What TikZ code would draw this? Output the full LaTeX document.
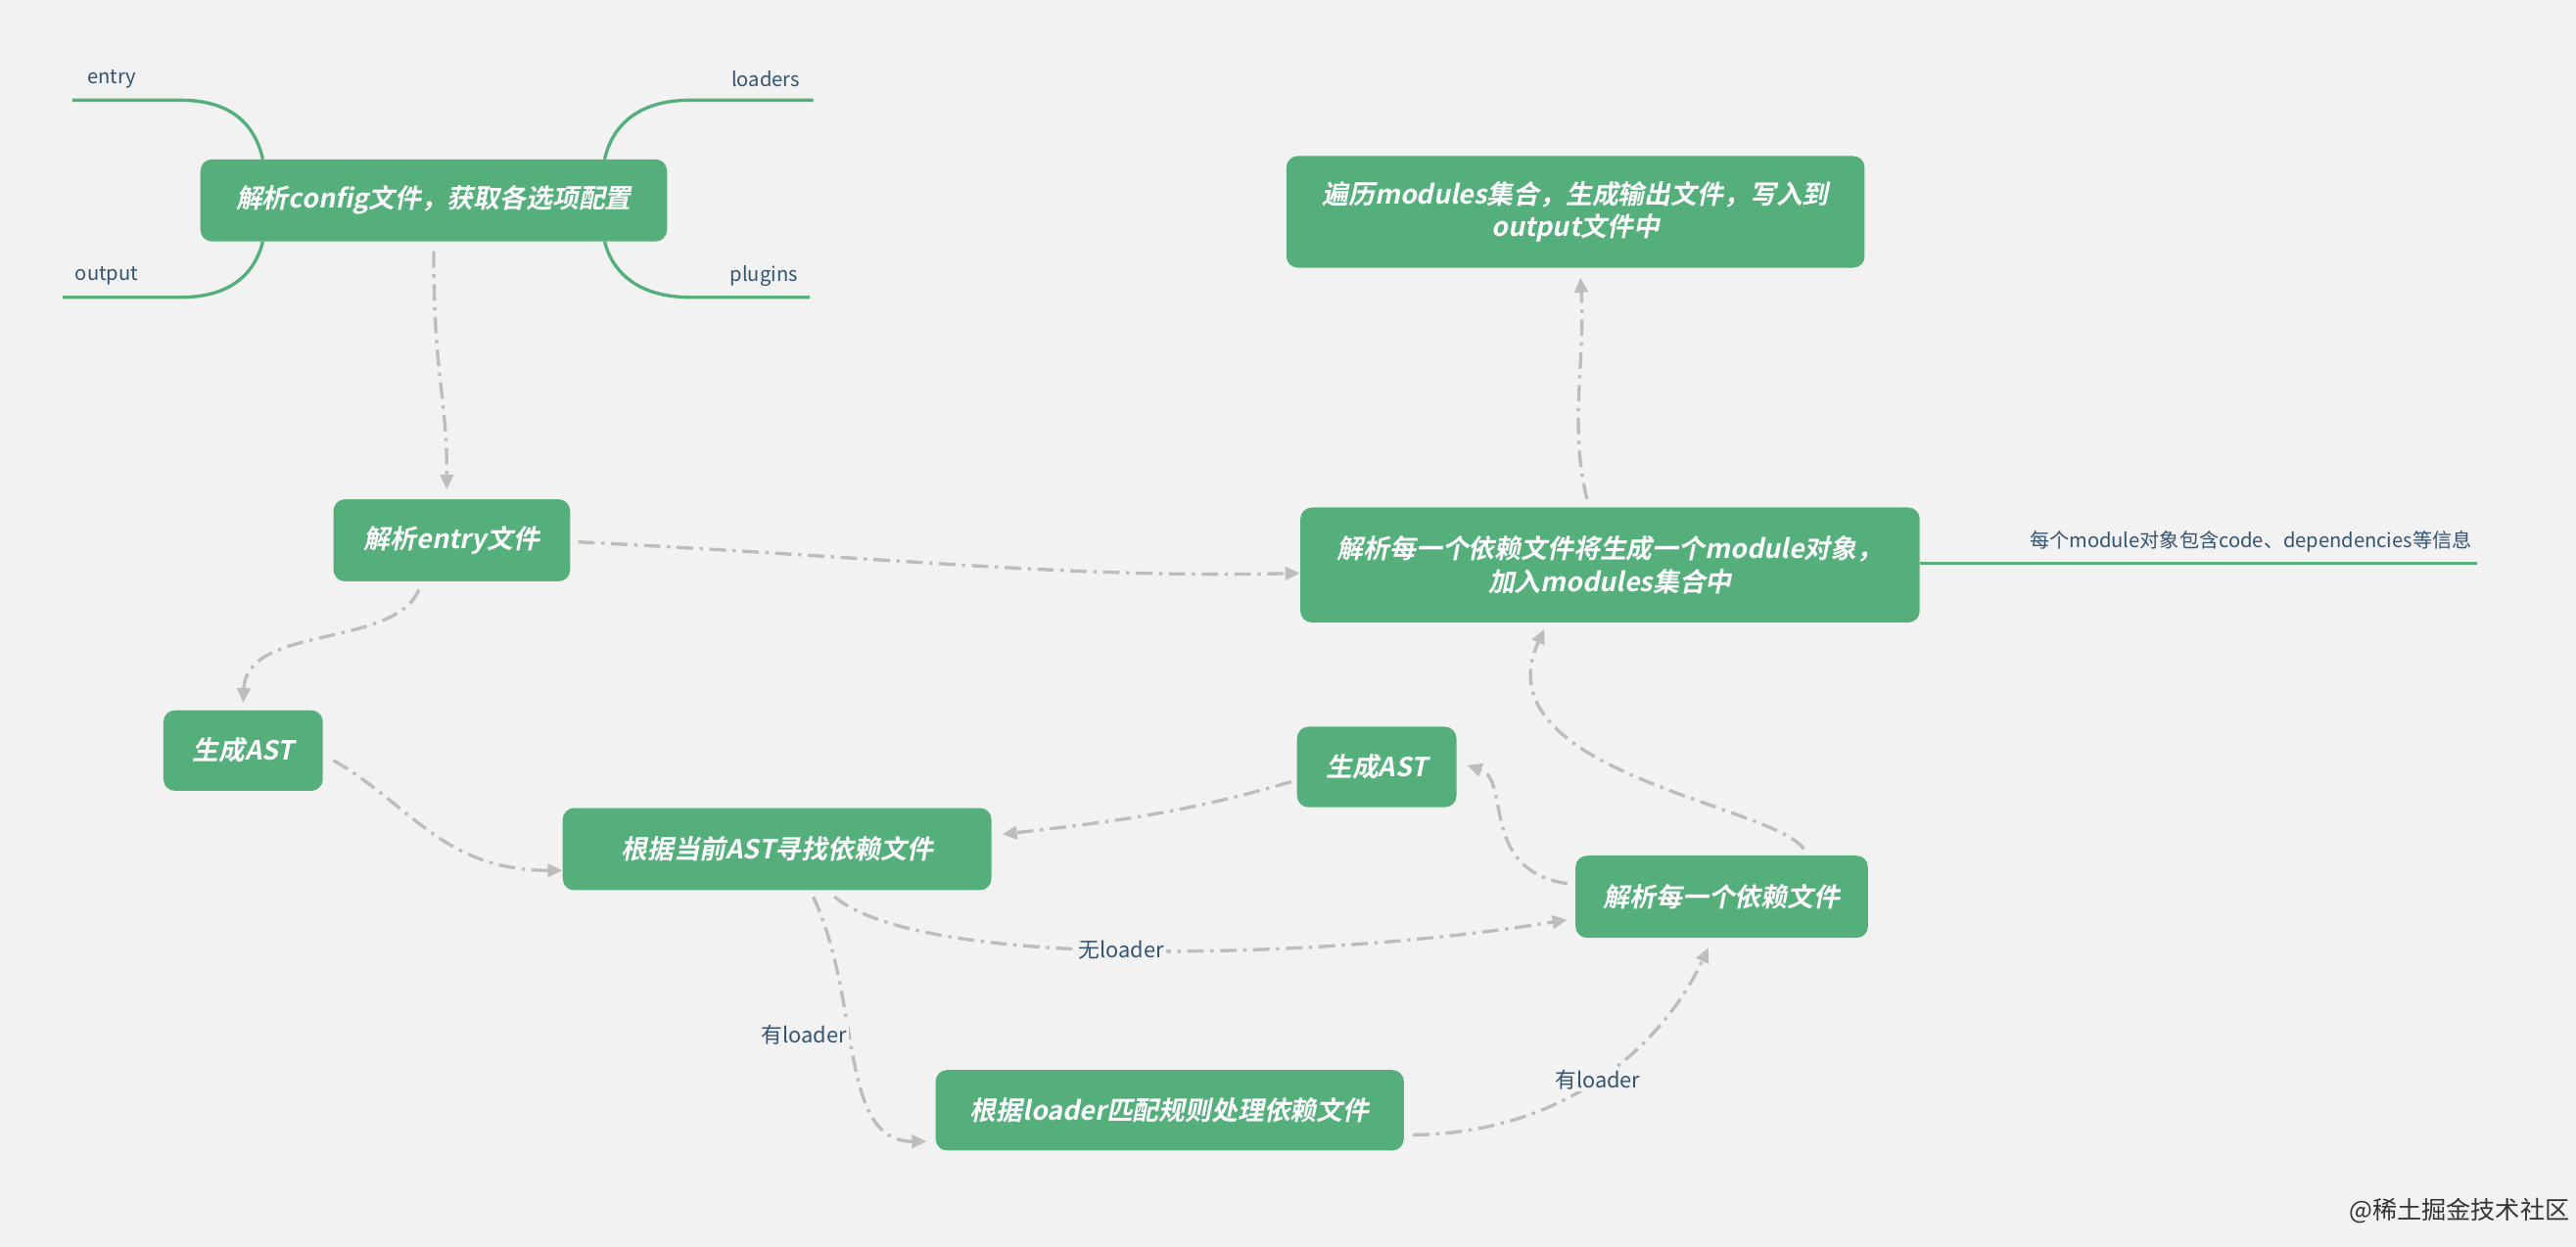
\documentclass[tikz,border=0pt]{standalone}
\usepackage{fontspec}
\setmainfont{Liberation Sans}
\newfontfamily\cjk{Noto Sans CJK SC}
\newfontfamily\cjkb[FakeSlant=0.2]{Noto Sans CJK SC Bold}
\usetikzlibrary{arrows.meta}
\definecolor{gbox}{HTML}{55AF7B}
\definecolor{bg}{HTML}{F2F2F2}
\definecolor{arr}{HTML}{BDBDBD}
\definecolor{lbl}{HTML}{34536E}
\tikzset{
 box/.style={fill=gbox,rounded corners=7pt,text=white,font=\cjkb\fontsize{16}{20}\selectfont,align=center,inner sep=0pt},
 con/.style={draw=arr,line width=2pt,dash pattern=on 10pt off 4pt on 2pt off 4pt,-{Triangle[length=9pt,width=8pt]}},
 br/.style={draw=gbox,line width=2pt},
 tag/.style={font=\cjk\fontsize{12}{14}\selectfont,text=lbl},
 el/.style={font=\cjk\itshape\fontsize{13}{15}\selectfont,text=lbl,fill=bg,inner sep=1pt}
}
\begin{document}
\begin{tikzpicture}[x=1pt,y=-1pt]
\fill[bg] (0,0) rectangle (1568,759);
\useasboundingbox (0,0) rectangle (1568,759);
\node[box,minimum width=284pt,minimum height=50pt] (cfg) at (264,122) {解析config文件，获取各选项配置};
\node[box,minimum width=352pt,minimum height=68pt] (out) at (959,129) {遍历modules集合，生成输出文件，写入到\\output文件中};
\node[box,minimum width=144pt,minimum height=50pt] (ent) at (275,329) {解析entry文件};
\node[box,minimum width=377pt,minimum height=70pt] (mod) at (980,344) {解析每一个依赖文件将生成一个module对象，\\加入modules集合中};
\node[box,minimum width=97pt,minimum height=49pt] (ast1) at (148,457) {生成AST};
\node[box,minimum width=261pt,minimum height=50pt] (find) at (473,517) {根据当前AST寻找依赖文件};
\node[box,minimum width=97pt,minimum height=49pt] (ast2) at (838,467) {生成AST};
\node[box,minimum width=178pt,minimum height=50pt] (each) at (1048,546) {解析每一个依赖文件};
\node[box,minimum width=285pt,minimum height=49pt] (ldr) at (712,676) {根据loader匹配规则处理依赖文件};
% branches
\coordinate (e1) at (44,61); \coordinate (l1) at (495,61);
\coordinate (o1) at (38,181); \coordinate (p1) at (493,181);
\draw[br] (e1) -- (110,61) .. controls (140,61) and (155,75) .. (160,97);
\draw[br] (l1) -- (420,61) .. controls (390,61) and (373,75) .. (368,97);
\draw[br] (o1) -- (110,181) .. controls (140,181) and (155,167) .. (160,147);
\draw[br] (p1) -- (420,181) .. controls (390,181) and (373,167) .. (368,147);
\node[tag] (te) at (68,48) {entry};
\node[tag] (tl) at (466,48) {loaders};
\node[tag] (to) at (65,168) {output};
\node[tag] (tp) at (465,168) {plugins};
\coordinate (mr) at (1508,343);
\draw[br] (mod.east |- mr) -- (mr);
\node[tag] (tm) at (1370,330) {每个module对象包含code、dependencies等信息};
% connectors
\draw[con] (264,153) .. controls (264,230) and (272,240) .. (272,298);
\draw[con] (352,330) .. controls (550,340) and (650,352) .. (mod.west |- 0,349);
\draw[con] (255,359) .. controls (240,395) and (150,380) .. (148,428);
\draw[con] (203,463) .. controls (250,490) and (270,530) .. (find.west |- 0,530);
\draw[con] (786,476) .. controls (720,495) and (680,500) .. (610,508);
\draw[con] (954,538) .. controls (900,530) and (920,475) .. (893,466);
\draw[con] (1098,517) .. controls (1080,490) and (900,470) .. (940,383);
\draw[con] (966,304) .. controls (955,260) and (965,220) .. (962,169);
\draw[con] (508,546) .. controls (560,590) and (800,585) .. (954,560) node[el,pos=0.48] {无loader};
\draw[con] (495,546) .. controls (525,610) and (510,695) .. (564,695) node[el,pos=0.42,left=0pt] {有loader};
\draw[con] (860,691) .. controls (950,690) and (1010,640) .. (1040,577) node[el,pos=0.5] {有loader};
\node[font=\cjk\fontsize{15}{17}\selectfont,text=black!80] (wm) at (1497,737) {@稀土掘金技术社区};
\end{tikzpicture}
\end{document}
